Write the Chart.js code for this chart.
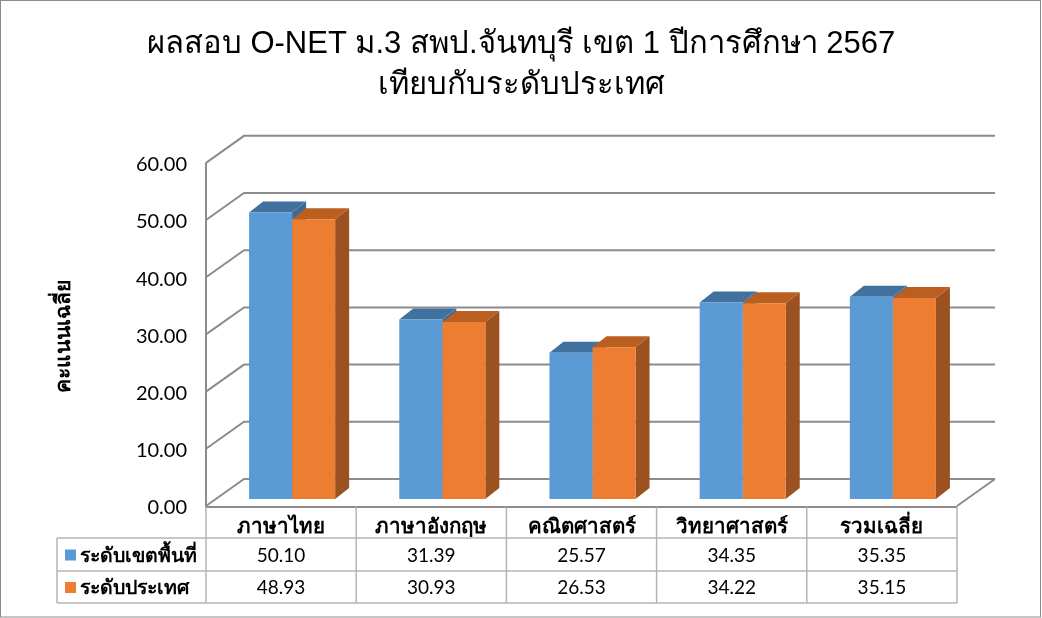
<!DOCTYPE html>
<html lang="th">

<head>
    <meta charset="UTF-8">
    <title>ผลสอบ O-NET</title>
    <script src="https://cdn.jsdelivr.net/npm/chart.js"></script>
    <style>
        html, body { margin: 0; padding: 0; background: #fff; overflow: hidden; }
        #wrap { position: relative; width: 1042px; height: 618px; }
    </style>
</head>

<body>
    <div id="wrap"><canvas id="chart" width="1042" height="618"></canvas></div>

    <script>
        const titleLines = ['ผลสอบ O-NET ม.3 สพป.จันทบุรี เขต 1 ปีการศึกษา 2567', 'เทียบกับระดับประเทศ'];
        const yTitle = 'คะแนนเฉลี่ย';
        const categories = ['ภาษาไทย', 'ภาษาอังกฤษ', 'คณิตศาสตร์', 'วิทยาศาสตร์', 'รวมเฉลี่ย'];
        const seriesNames = ['ระดับเขตพื้นที่', 'ระดับประเทศ'];
        const areaValues = [50.10, 31.39, 25.57, 34.35, 35.35];
        const nationValues = [48.93, 30.93, 26.53, 34.22, 35.15];

        const textFont = "Lato, 'Noto Sans', sans-serif";
        const gridColor = '#8c8c8c';
        const tableColor = '#b4b4b4';
        const faceColors = ['#5B9BD5', '#ED7D31'];
        const topColors = ['#41719F', '#BA5F20'];
        const sideColors = ['#3A6A96', '#9C5220'];

        // the tick labels sit 2px under their gridlines, so the scale runs 2px low
        const gridLift = -2;
        // the bars stand a little behind the front edge of the floor
        const barShift = { x: 11, y: -9 };
        const barDepth = { x: 14, y: -11 };
        const wallDepth = { x: 38, y: -27 };

        function poly(ctx, pts, color) {
            ctx.fillStyle = color;
            ctx.beginPath();
            pts.forEach((p, i) => i ? ctx.lineTo(p[0], p[1]) : ctx.moveTo(p[0], p[1]));
            ctx.closePath();
            ctx.fill();
        }

        function line(ctx, x1, y1, x2, y2) {
            ctx.beginPath();
            ctx.moveTo(x1, y1);
            ctx.lineTo(x2, y2);
            ctx.stroke();
        }

        // Walls, floor and gridlines behind the bars
        const wallsPlugin = {
            id: 'walls',
            beforeDatasetsDraw(chart) {
                const { ctx, chartArea: a, scales: { y } } = chart;
                const bottom = a.bottom + gridLift;
                ctx.save();
                ctx.strokeStyle = gridColor;
                ctx.lineWidth = 2;
                y.ticks.forEach(t => {
                    const py = y.getPixelForValue(t.value) + gridLift;
                    ctx.beginPath();
                    ctx.moveTo(a.left, py);
                    ctx.lineTo(a.left + wallDepth.x, py + wallDepth.y);
                    ctx.lineTo(a.right + wallDepth.x, py + wallDepth.y);
                    ctx.stroke();
                });
                line(ctx, a.left, y.getPixelForValue(60) + gridLift, a.left, bottom + 1);
                line(ctx, a.left, bottom + 1, a.right, bottom + 1);
                line(ctx, a.right, bottom, a.right + wallDepth.x, bottom + wallDepth.y);
                ctx.restore();
            }
        };

        // Top and side faces of the bars, then move the library's bars onto the same plane
        const depthPlugin = {
            id: 'depth',
            beforeDatasetsDraw(chart) {
                const ctx = chart.ctx;
                ctx.save();
                ctx.translate(barShift.x, barShift.y);
                for (let i = 0; i < categories.length; i++) {
                    chart.data.datasets.forEach((ds, d) => {
                        const bar = chart.getDatasetMeta(d).data[i];
                        const left = bar.x - bar.width / 2;
                        const right = bar.x + bar.width / 2;
                        const dx = barDepth.x, dy = barDepth.y;
                        poly(ctx, [[right, bar.y], [right + dx, bar.y + dy], [right + dx, bar.base + dy], [right, bar.base]], sideColors[d]);
                        poly(ctx, [[left, bar.y], [left + dx, bar.y + dy], [right + dx, bar.y + dy], [right, bar.y]], topColors[d]);
                    });
                }
            },
            afterDatasetsDraw(chart) {
                chart.ctx.restore();
            }
        };

        // Data table under the plot
        const tablePlugin = {
            id: 'dataTable',
            afterDraw(chart) {
                const { ctx, chartArea: a, scales: { x } } = chart;
                const rows = [538, 571, 603];
                const tableLeft = 57;
                const bottom = a.bottom + gridLift;
                const step = (a.right - a.left) / categories.length;
                ctx.save();
                ctx.strokeStyle = tableColor;
                ctx.lineWidth = 1.5;
                rows.forEach(r => line(ctx, tableLeft, r, a.right, r));
                line(ctx, tableLeft, rows[0], tableLeft, rows[2]);
                for (let i = 0; i <= categories.length; i++) {
                    line(ctx, a.left + step * i, bottom + 1, a.left + step * i, rows[2]);
                }
                ctx.textBaseline = 'middle';
                chart.data.datasets.forEach((ds, d) => {
                    const mid = (rows[d] + rows[d + 1]) / 2 + 1;
                    ctx.fillStyle = faceColors[d];
                    ctx.fillRect(65, mid - 6, 11, 11);
                    ctx.fillStyle = '#000';
                    ctx.textAlign = 'left';
                    ctx.font = 'bold 19.5px ' + textFont;
                    ctx.fillText(ds.label, 80, mid);
                    ctx.textAlign = 'center';
                    ctx.font = '19px ' + textFont;
                    ds.data.forEach((v, i) => ctx.fillText(v.toFixed(2), x.getPixelForTick(i), mid));
                });
                ctx.strokeStyle = '#8c8c8c';
                ctx.lineWidth = 1;
                ctx.strokeRect(0.5, 0.5, 1040, 616.5);
                ctx.restore();
            }
        };

        new Chart(document.getElementById('chart'), {
            type: 'bar',
            data: {
                labels: categories,
                datasets: [
                    { label: seriesNames[0], data: areaValues, backgroundColor: faceColors[0] },
                    { label: seriesNames[1], data: nationValues, backgroundColor: faceColors[1] }
                ]
            },
            options: {
                responsive: false,
                animation: false,
                plugins: {
                    legend: { display: false },
                    tooltip: { enabled: false },
                    title: {
                        display: true,
                        text: titleLines,
                        color: '#000',
                        font: { family: "'Liberation Sans', sans-serif", size: 31, weight: 'normal', lineHeight: 1.32 },
                        padding: { top: 24, bottom: 59 }
                    }
                },
                datasets: { bar: { barPercentage: 1, categoryPercentage: 0.573 } },
                scales: {
                    x: {
                        grid: { display: false, drawTicks: false },
                        border: { display: false },
                        ticks: { color: '#000', padding: 6, maxRotation: 0, font: { family: textFont, size: 20.5, weight: 'bold' } },
                        afterFit(s) { s.height = 110; }
                    },
                    y: {
                        min: 0,
                        max: 60,
                        grid: { display: false, drawTicks: false },
                        border: { display: false },
                        ticks: {
                            stepSize: 10,
                            color: '#000',
                            padding: 19,
                            font: { family: textFont, size: 20 },
                            callback: v => v.toFixed(2)
                        },
                        title: {
                            display: true,
                            text: yTitle,
                            color: '#000',
                            font: { family: textFont, size: 21, weight: 'bold' },
                            padding: { top: 51, bottom: 0 }
                        },
                        afterFit(s) { s.width = 206; }
                    },
                    // empty axis that keeps the plot clear of the right side, the title stays centred on the page
                    spacer: {
                        position: 'right',
                        grid: { display: false, drawTicks: false },
                        border: { display: false },
                        ticks: { display: false },
                        afterFit(s) { s.width = 85; }
                    }
                }
            },
            plugins: [wallsPlugin, depthPlugin, tablePlugin]
        });
    </script>
</body>

</html>
